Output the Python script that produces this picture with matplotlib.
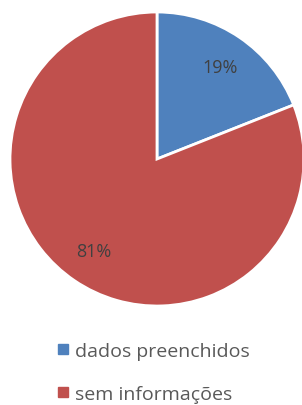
import matplotlib.pyplot as plt
from matplotlib.lines import Line2D

# --- Data ---
categories = ["dados preenchidos", "sem informações"]
values = [19, 81]
colors = ["#4F81BD", "#C0504D"]

plt.rcParams['font.family'] = ['Open Sans', 'DejaVu Sans']

fig = plt.figure(figsize=(3.02, 4.06), dpi=100)
ax = fig.add_axes([10 / 302, 1 - 307 / 406, 294 / 302, 294 / 406])

wedges, texts, autotexts = ax.pie(
    values, colors=colors, startangle=90, counterclock=False,
    autopct=lambda p: f"{p:.0f}%", pctdistance=0.76,
    wedgeprops=dict(edgecolor="white", linewidth=2),
    textprops=dict(color="#404040", fontsize=13),
)
ax.set_xlim(-1, 1)
ax.set_ylim(-1, 1)
ax.set_aspect("equal")

handles = [Line2D([0], [0], marker="s", color="none", markerfacecolor=c,
                  markeredgecolor=c, markersize=7) for c in colors]
fig.legend(handles, categories, loc="upper left", bbox_to_anchor=(48 / 302, 1 - 335 / 406),
           frameon=False, handlelength=0.7, handletextpad=0.3, labelspacing=1.3,
           fontsize=14, labelcolor="#595959", borderaxespad=0)

fig.savefig("out.png", dpi=100)
